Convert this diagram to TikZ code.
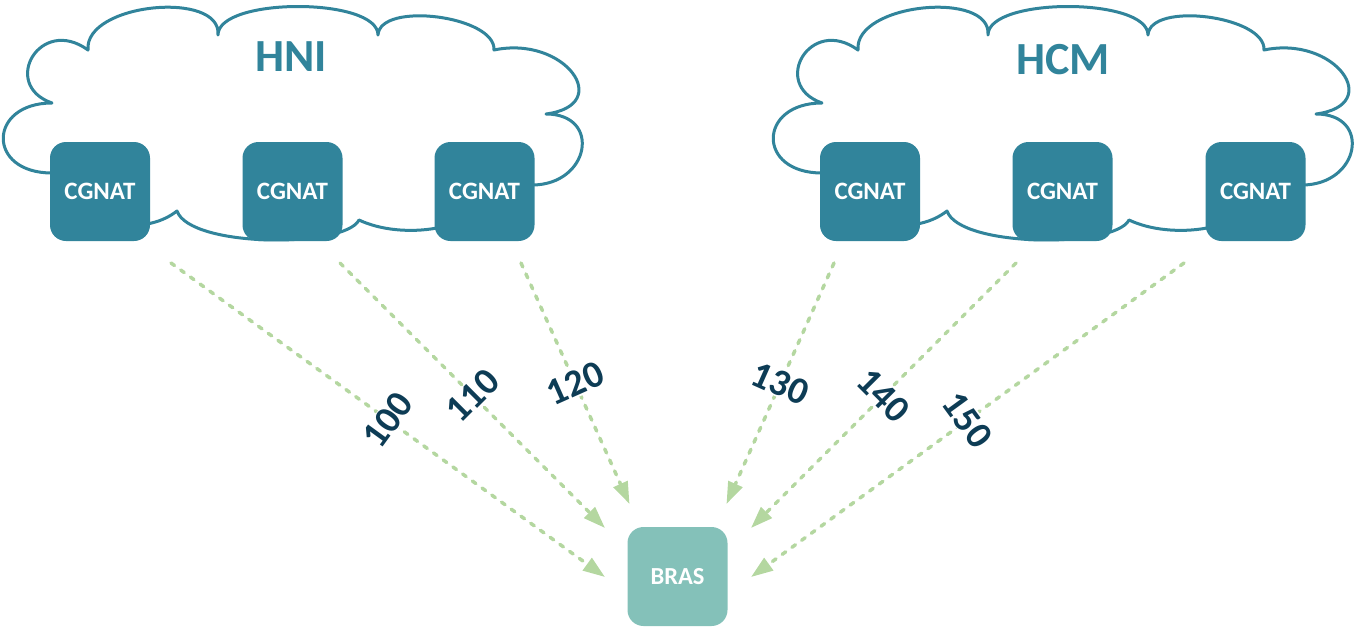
\documentclass[tikz,border=0pt]{standalone}
\usepackage{fontspec}
\setmainfont{Carlito}
\usetikzlibrary{arrows.meta}
\definecolor{teal}{HTML}{31849B}
\definecolor{brasc}{HTML}{84C1B9}
\definecolor{arrowgreen}{HTML}{B4D7A0}
\definecolor{labc}{HTML}{0D3C55}
\tikzset{
  cloud/.style={draw=teal, line width=3pt, fill=white, line join=round},
  cg/.style={fill=teal, rounded corners=16pt, minimum width=100pt, minimum height=99pt, inner sep=0pt,
    text=white, font=\fontsize{25}{28}\selectfont\bfseries},
  bras/.style={cg, fill=brasc, font=\fontsize{24.5}{28}\selectfont\bfseries},
  title/.style={text=teal, font=\fontsize{46}{50}\selectfont\bfseries, inner sep=0pt},
  conn/.style={draw=arrowgreen, line width=3.5pt, dash pattern=on 4.3pt off 7.7pt, line cap=round,
    -{Triangle[length=22pt,width=15pt]}},
  lab/.style={fill=white, inner sep=1pt, text=labc, font=\fontsize{38}{40}\selectfont\bfseries}
}
\def\cloudshape{(52,173) .. controls (-14,173) and (-12,103) .. (52,103)
  .. controls (0,85) and (40,15) .. (88,50)
  .. controls (84,3) and (222,-10) .. (218,35)
  .. controls (218,-3) and (378,-3) .. (378,35)
  .. controls (380,1) and (496,16) .. (494,50)
  .. controls (565,35) and (615,105) .. (546,114)
  .. controls (602,114) and (590,185) .. (532,185)
  -- (437,228)
  .. controls (410,233) and (380,230) .. (359,220)
  .. controls (345,248) and (190,248) .. (177,211)
  .. controls (168,218) and (158,222) .. (147,224)
  -- cycle}
\begin{document}
\begin{tikzpicture}[x=1pt,y=-1pt]
\useasboundingbox (0,0) rectangle (1354,627);
% clouds
\draw[cloud] \cloudshape;
\begin{scope}[xshift=770pt]
\draw[cloud] \cloudshape;
\end{scope}
\node[title] (hni) at (291,57) {HNI};
\node[title] (hcm) at (1063,60) {HCM};
% boxes
\node[cg] (h1) at (100,191.5) {CGNAT};
\node[cg] (h2) at (292.5,191.5) {CGNAT};
\node[cg] (h3) at (484.5,191.5) {CGNAT};
\node[cg] (m1) at (870,191.5) {CGNAT};
\node[cg] (m2) at (1062.5,191.5) {CGNAT};
\node[cg] (m3) at (1255.5,191.5) {CGNAT};
\node[bras] (bras) at (677.5,576.5) {BRAS};
% connector ends
\coordinate (s100) at (171,263);  \coordinate (e100) at (605,577);
\coordinate (s110) at (340,263);  \coordinate (e110) at (605,528);
\coordinate (s120) at (521,263);  \coordinate (e120) at (629.5,504);
\coordinate (s130) at (834,263);  \coordinate (e130) at (726.5,504);
\coordinate (s140) at (1016,263); \coordinate (e140) at (751,528);
\coordinate (s150) at (1184,263); \coordinate (e150) at (751,577);
\draw[conn] (s100) -- node[lab, rotate=54] (l100) {100} (e100);
\draw[conn] (s110) -- node[lab, rotate=45] (l110) {110} (e110);
\draw[conn] (s120) -- node[lab, rotate=24] (l120) {120} (e120);
\draw[conn] (s130) -- node[lab, rotate=-24] (l130) {130} (e130);
\draw[conn] (s140) -- node[lab, rotate=-45] (l140) {140} (e140);
\draw[conn] (s150) -- node[lab, rotate=-54] (l150) {150} (e150);
\end{tikzpicture}
\end{document}
